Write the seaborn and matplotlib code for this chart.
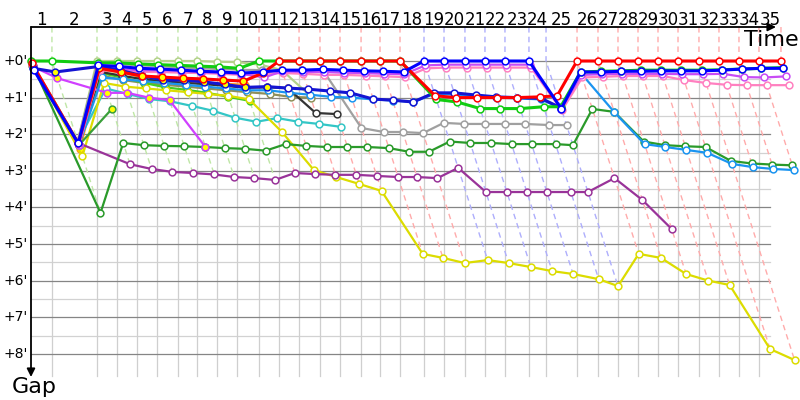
import numpy as np
import pandas as pd
import matplotlib
matplotlib.use("Agg")
import matplotlib.pyplot as plt
import seaborn as sns

N = np.nan

# ---------------- data ----------------
stage_labels = [str(k) for k in range(1, 36)]
# leader's elapsed time (minutes) at the start (index 0) and at the end of stages 1..35
stage_times = [0.00, 1.79, 5.64, 7.35, 9.06, 10.77, 12.56, 14.19, 15.90, 17.61,
               19.49, 21.20, 22.91, 24.70, 26.41, 28.21, 29.83, 31.54, 33.59, 35.30,
               37.09, 38.80, 40.51, 42.56, 44.02, 46.67, 48.46, 50.17, 51.88, 53.59,
               55.30, 57.09, 58.80, 60.51, 62.22, 64.10]
stage_leader = ["green"] * 9 + ["red"] * 8 + ["blue"] * 7 + ["red"] * 11
gap_ticks = [0, 1, 2, 3, 4, 5, 6, 7, 8]
gap_tick_labels = ["+0'", "+1'", "+2'", "+3'", "+4'", "+5'", "+6'", "+7'", "+8'"]

# gap (minutes) of each rider at start + stages 1..35
red = [0.05, 2.25, 0.20, 0.30, 0.41, 0.44, 0.47, 0.49, 0.52, 0.55,
       0.33, 0, 0, 0, 0, 0, 0, 0,
       0.95, 1.00, 1.00, 1.00, 1.00, 0.98, 0.95,
       0, 0, 0, 0, 0, 0, 0, 0, 0, 0, 0]
green = [0, 0, 0.05, 0.05, 0.08, 0.10, 0.12, 0.14, 0.16, 0.20,
         0, 0, 0, 0, 0, 0, 0, 0,
         1.05, 1.12, 1.30, 1.30, 1.30, 1.25, 1.25,
         0.30, 0.28, 0.27, 0.25, 0.25, 0.25, 0.25, 0.24, 0.22, 0.20, 0.18]
blue = [0.25, 2.25, 0.12, 0.15, 0.20, 0.22, 0.25, 0.28, 0.30, 0.33,
        0.30, 0.25, 0.25, 0.23, 0.25, 0.27, 0.28, 0.30,
        0, 0, 0, 0, 0, 0, 1.30,
        0.30, 0.30, 0.28, 0.28, 0.27, 0.27, 0.27, 0.25, 0.22, 0.20, 0.20]
navy = [0.20, 0.30, 0.15, 0.25, 0.40, 0.52, 0.52, 0.57, 0.64, 0.72,
        0.70, 0.74, 0.77, 0.82, 0.87, 1.04, 1.07, 1.12,
        0.87, 0.87, 0.93, 0.98, 1.00, 1.02, 1.28,
        N, N, N, N, N, N, N, N, N, N, N]
dodger = [0.20, 2.30, 0.45, 0.50, 0.55, 0.60, 0.65, 0.70, 0.75, 0.80,
          0.80, 0.87, 0.92, 0.98, 1.00, 1.05, 1.08, 1.12,
          0.90, 0.92, 0.95, 1.00, 1.02, 1.05, 1.30,
          0.33, 1.40, 2.27, 2.35, 2.43, 2.51, 2.81, 2.90, 2.95, 2.98, N]
dark_green = [0.05, 4.15, 2.24, 2.30, 2.32, 2.33, 2.35, 2.38, 2.40, 2.45,
              2.27, 2.32, 2.35, 2.35, 2.35, 2.38, 2.48, 2.48,
              2.20, 2.24, 2.24, 2.27, 2.27, 2.27, 2.30,
              1.31, 1.39, 2.20, 2.30, 2.33, 2.35, 2.73, 2.80, 2.83, 2.85, N]
green2 = [0.10, 2.30, 1.30] + [N] * 33
purple = [0.20, 2.24, 2.82, 2.95, 3.03, 3.06, 3.10, 3.17, 3.20, 3.25,
          3.06, 3.09, 3.11, 3.11, 3.14, 3.17, 3.17, 3.20,
          2.92, 3.58, 3.58, 3.58, 3.58, 3.58, 3.58,
          3.20, 3.80, 4.59, N, N, N, N, N, N, N, N]
yellow = [0.10, 2.60, 0.60, 0.70, 0.75, 0.80, 0.85, 0.90, 0.95, 1.05,
          1.93, 2.98, 3.17, 3.36, 3.55, 5.27, 5.38, 5.52,
          5.44, 5.52, 5.63, 5.74, 5.82, 5.96, 6.15,
          5.27, 5.38, 5.82, 6.00, 6.12, 7.87, 8.17, N, N, N, N]
cyan = [0.10, 2.20, 0.75, 0.90, 1.04, 1.10, 1.23, 1.36, 1.55, 1.66,
        1.56, 1.66, 1.72, 1.80] + [N] * 22
black = [0.15, 2.30, 0.30, 0.40, 0.50, 0.55, 0.60, 0.63, 0.68, 0.73,
         0.72, 0.74, 1.42, 1.45] + [N] * 22
grey = [0.05, 2.20, 0.05, 0.08, 0.12, 0.14, 0.18, 0.20, 0.22, 0.24,
        0.25, 0.26, 0.25, 0.25, 1.83, 1.94, 1.94, 1.97,
        1.69, 1.72, 1.72, 1.72, 1.72, 1.75, 1.75] + [N] * 11
pink = [0.10, 2.30, 0.25, 0.28, 0.30, 0.30, 0.32, 0.33, 0.35, 0.38,
        0.35, 0.33, 0.35, 0.38, 0.38, 0.40, 0.42, 0.44,
        0.20, 0.18, 0.18, 0.18, 0.18, 0.18, 1.35,
        0.45, 0.43, 0.41, 0.41, 0.41, 0.52, 0.60, 0.65, 0.66, 0.66, 0.66]
magenta = [0.05, 2.30, 0.20, 0.22, 0.25, 0.25, 0.27, 0.30, 0.32, 0.35,
           0.45, 0.28, 0.30, 0.30, 0.32, 0.33, 0.35, 0.36,
           0.12, 0.10, 0.10, 0.10, 0.10, 0.10, 1.30,
           0.38, 0.36, 0.35, 0.35, 0.35, 0.36, 0.36, 0.35, 0.44, 0.45, 0.42]
violet = [0.15, 0.47, 0.87, 0.87, 1.00, 1.07, 2.35] + [N] * 29
lime = [0.10, 2.30, 0.33, 0.45, 0.60, 0.72, 0.79, 0.87, 0.98, 1.09] + [N] * 26
olive = [0.10, 2.30, 0.40, 0.52, 0.60, 0.65, 0.70, 0.75, 0.80, 0.85,
         0.90, 0.98, 1.00] + [N] * 23
light_olive = [0, 2.20, 0, 0, 0, 0, 0, 0, 0.02, 0.03,
               0.10, 0.25, 0.95] + [N] * 23
orange = [0.15, 2.40, 0.25, 0.30, 0.45, 0.55, 0.58, 0.60, 0.62, 0.65] + [N] * 26

riders = {
    "light_olive": light_olive, "olive": olive, "orange": orange, "lime": lime,
    "cyan": cyan, "black": black, "grey": grey, "yellow": yellow,
    "purple": purple, "green2": green2, "dark_green": dark_green,
    "violet": violet, "dodger": dodger, "pink": pink, "magenta": magenta,
    "navy": navy, "green": green, "red": red, "blue": blue,
}
colors = {
    "light_olive": "#b4d18a", "olive": "#8f8f5a", "orange": "#ff9a1a",
    "lime": "#44cc22", "cyan": "#33c6c6", "black": "#333333",
    "grey": "#a0a0a0", "yellow": "#dcdc00", "purple": "#993399",
    "green2": "#3a9f3a", "dark_green": "#2a9a2a", "violet": "#d040ff",
    "dodger": "#1a94f0", "pink": "#ff80c0", "magenta": "#c84cf5",
    "navy": "#1414d2", "green": "#11cc11", "red": "#ff0000", "blue": "#0000ff",
}
thick = {"red", "green", "blue", "navy"}
early_yellow = {"red", "navy", "violet", "lime", "orange", "green2"}

rows = []
for name, gaps in riders.items():
    for k, g in enumerate(gaps):
        if not np.isnan(g):
            rows.append({"rider": name, "stage": k, "gap": g,
                         "time": stage_times[k] + g})
df = pd.DataFrame(rows)

# ---------------- layout ----------------
X_PX, Y_PX = 11.7, 36.6
x_lo, x_hi = -31 / X_PX, (800 - 31) / X_PX
y_top, y_bot = -61 / Y_PX, (400 - 61) / Y_PX
axis_gap = -34 / Y_PX
grid_right = (770 - 31) / X_PX
grid_bottom = (376 - 61) / Y_PX

fig = plt.figure(figsize=(8, 4), dpi=100)
fig.patch.set_facecolor("white")
ax = fig.add_axes([0, 0, 1, 1])
ax.set_axis_off()

# grid
for g in np.arange(0.5, 8.0, 1.0):
    ax.plot([0, grid_right], [g, g], color="#d2d2d2", lw=0.9, zorder=1)
for t in stage_times[1:35]:
    ax.plot([t, t], [0, grid_bottom], color="#cfcfcf", lw=0.9, zorder=1)
for g in gap_ticks:
    ax.plot([0, grid_right], [g, g], color="#858585", lw=0.9, zorder=1.1)

# stage time lines (leader colour)
pale = {"green": "#bfe6a6", "red": "#ffabab", "blue": "#aeaefc"}
max_gap = df.groupby("stage")["gap"].max()
for k in range(1, 36):
    t = stage_times[k]
    g = max_gap.get(k, 0.0)
    ax.plot([t, t, t + g], [axis_gap, 0, g], color=pale[stage_leader[k - 1]],
            lw=1.0, ls=(0, (4, 3)), zorder=1.5)

# riders
for z, name in enumerate(riders):
    sub = df[df.rider == name]
    c = colors[name]
    sns.lineplot(data=sub, x="time", y="gap", color=c,
                 lw=2.2 if name in thick else 1.6, sort=False, estimator=None,
                 errorbar=None, legend=False, ax=ax, zorder=3 + z)
    yel = sub["stage"].between(1, 10) & (name in early_yellow)
    sns.scatterplot(data=sub[~yel], x="time", y="gap", color="white",
                    edgecolor=c, s=24, linewidth=1.1, legend=False, ax=ax,
                    zorder=3.5 + z)
    if yel.any():
        sns.scatterplot(data=sub[yel], x="time", y="gap", color="#ffff00",
                        edgecolor=c, s=24, linewidth=1.1, legend=False, ax=ax,
                        zorder=3.5 + z)

# axes with arrows
ax.annotate("", xy=((776 - 31) / X_PX, axis_gap), xytext=(0, axis_gap),
            arrowprops=dict(arrowstyle="-|>", color="black", lw=1.3,
                            mutation_scale=12, shrinkA=0, shrinkB=0), zorder=30)
ax.annotate("", xy=(0, (377 - 61) / Y_PX), xytext=(0, axis_gap),
            arrowprops=dict(arrowstyle="-|>", color="black", lw=1.3,
                            mutation_scale=12, shrinkA=0, shrinkB=0), zorder=30)

for k in range(1, 36):
    ax.text((stage_times[k - 1] + stage_times[k]) / 2, (20 - 61) / Y_PX,
            stage_labels[k - 1], ha="center", va="center", fontsize=12,
            color="black", zorder=31)
for g, lab in zip(gap_ticks, gap_tick_labels):
    ax.text((16 - 31) / X_PX, g, lab, ha="center", va="center", fontsize=10,
            color="black")
ax.text((744 - 31) / X_PX, (40 - 61) / Y_PX, "Time", ha="left", va="center",
        fontsize=16, color="black", zorder=31)
ax.text((12 - 31) / X_PX, (377 - 61) / Y_PX, "Gap", ha="left", va="top",
        fontsize=16, color="black")

ax.set_xlim(x_lo, x_hi)
ax.set_ylim(y_bot, y_top)

fig.savefig("out.png", dpi=100)
